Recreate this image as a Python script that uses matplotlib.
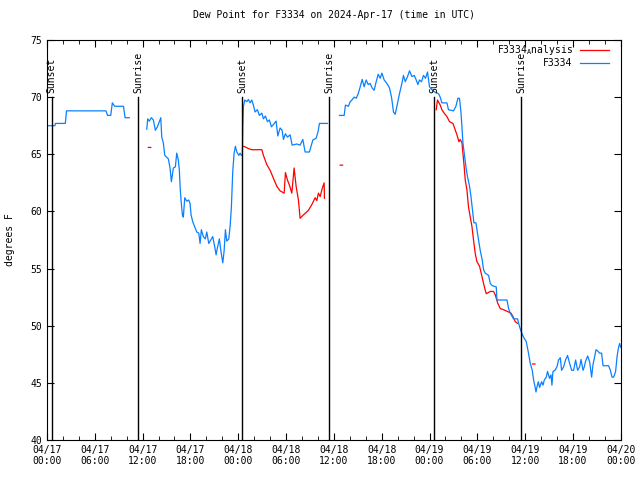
import matplotlib
matplotlib.use("Agg")
import matplotlib.pyplot as plt
import matplotlib.dates as mdates
import numpy as np
import pandas as pd

plt.rcParams['font.family'] = ['DejaVu Sans Mono']

start = pd.Timestamp("2024-04-17 00:00")

# observed dew point (hours since 04/17 00:00 UTC, degF); gaps split segments
obs_h1 = [0.0, 1.0, 1.05, 2.3, 2.45, 7.4, 7.6, 8.0, 8.2, 8.5, 9.6, 9.8, 10.33]
obs_v1 = [67.5, 67.5, 67.7, 67.7, 68.8, 68.8, 68.4, 68.4, 69.5, 69.2, 69.2, 68.2, 68.2]

obs_h2 = [12.52, 12.64, 12.84, 13.09, 13.35, 13.60, 13.85, 14.28, 14.40, 14.60, 14.78, 14.94,
          15.23, 15.44, 15.61, 15.86, 16.11, 16.28, 16.48, 16.61, 16.70, 16.82, 16.99, 17.11,
          17.29, 17.54, 17.79, 17.95, 18.08, 18.29, 18.62, 18.79, 19.05, 19.21, 19.37, 19.62,
          19.87, 20.05, 20.30, 20.55, 20.80, 21.05, 21.22, 21.38, 21.63, 21.81, 22.06, 22.22,
          22.39, 22.56, 22.81, 22.98, 23.14, 23.31, 23.48, 23.64, 23.82, 24.07, 24.23, 24.39,
          24.52, 24.57, 24.65, 24.82, 25.07, 25.27, 25.49, 25.70, 25.90, 26.11, 26.40, 26.65,
          26.96, 27.16, 27.41, 27.66, 27.91, 28.16, 28.41, 28.75, 28.96, 29.25, 29.50, 29.67,
          29.92, 30.17, 30.51, 30.76, 31.35, 31.76, 32.10, 32.39, 32.93, 33.36, 33.77, 34.02,
          34.19, 35.19]
obs_v2 = [67.2, 68.1, 67.9, 68.2, 68.0, 67.1, 67.4, 68.2, 66.5, 66.0, 64.9, 64.8,
          64.6, 63.8, 62.6, 63.8, 63.9, 65.1, 64.5, 63.6, 62.2, 61.0, 59.7, 59.5,
          61.2, 60.9, 61.0, 60.7, 59.7, 59.1, 58.5, 58.2, 58.1, 57.2, 58.4, 57.8,
          57.6, 58.2, 57.2, 57.5, 57.8, 56.9, 56.2, 56.8, 57.6, 56.6, 55.5, 56.5,
          58.4, 57.4, 57.6, 58.7, 60.4, 63.5, 65.1, 65.7, 65.2, 64.9, 65.1, 64.9,
          64.9, 67.4, 69.2, 69.75, 69.6, 69.8, 69.5, 69.75, 69.3, 68.7, 68.9, 68.4,
          68.6, 68.1, 68.35, 67.85, 68.0, 67.4, 67.6, 67.9, 66.6, 67.3, 67.1, 66.3,
          66.8, 66.5, 66.7, 65.8, 65.9, 65.8, 66.3, 65.2, 65.2, 66.25, 66.4, 67.0,
          67.7, 67.7]

obs_h3 = [36.70, 37.29, 37.45, 37.83, 38.04, 38.26, 38.54, 38.80, 39.05, 39.30, 39.55, 39.80,
          40.05, 40.30, 40.55, 40.80, 41.05, 41.31, 41.56, 41.81, 42.02, 42.31, 42.65, 42.98,
          43.23, 43.48, 43.69, 43.91, 44.23, 44.53, 44.73, 44.95, 45.24, 45.49, 45.79, 46.08,
          46.33, 46.54, 46.74, 46.99, 47.24, 47.50, 47.75, 48.00, 48.25, 48.50, 49.13, 49.34,
          49.55, 50.18, 50.38, 51.01, 51.31, 51.56, 51.76, 51.94, 52.07, 52.19, 52.35, 52.57,
          52.77, 53.02, 53.20, 53.40, 53.57, 53.82, 53.95, 54.15, 54.36, 54.61, 54.78, 54.99,
          55.41, 55.62, 55.87, 56.37, 56.46, 57.72, 57.92, 58.13, 58.54, 59.05, 59.30, 59.60,
          59.80, 60.14, 60.39, 60.64, 60.89, 61.06, 61.23, 61.36, 61.48, 61.65, 61.81, 62.06,
          62.24, 62.40, 62.65, 62.81, 63.06, 63.24, 63.36, 63.49, 63.74, 63.99, 64.19, 64.41,
          64.57, 64.82, 65.07, 65.32, 65.58, 65.83, 66.08, 66.33, 66.58, 66.83, 67.01, 67.26,
          67.42, 67.58, 67.84, 68.09, 68.34, 68.51, 68.68, 68.89, 69.09, 69.34, 69.59, 69.77,
          70.47, 70.69, 70.90, 71.10, 71.35, 71.53, 71.69, 71.85, 72.0]
obs_v3 = [68.4, 68.4, 69.3, 69.2, 69.6, 69.75, 70.0, 69.9, 70.3, 70.9, 71.55, 70.9,
          71.5, 71.1, 71.2, 70.8, 70.6, 71.35, 72.0, 71.65, 72.1, 71.5, 71.2, 70.8,
          70.0, 68.7, 68.5, 69.2, 70.3, 71.2, 71.9, 71.35, 71.8, 72.3, 71.8, 71.9,
          71.5, 71.1, 71.5, 71.35, 71.9, 71.65, 72.2, 70.9, 70.7, 70.5, 70.3, 70.0,
          69.5, 69.5, 68.9, 68.8, 69.2, 69.9, 69.9, 68.7, 67.4, 66.0, 65.1, 63.9,
          63.0, 62.2, 61.3, 60.1, 59.0, 59.0, 58.4, 57.5, 56.6, 55.75, 54.9, 54.6,
          54.4, 53.7, 53.5, 53.4, 52.25, 52.25, 51.5, 51.1, 50.6, 50.6, 49.9, 49.3,
          49.0, 48.6, 47.7, 46.7, 46.1, 45.25, 44.7, 44.2, 44.65, 45.1, 44.6, 45.1,
          44.8, 45.25, 45.5, 46.0, 45.4, 45.7, 44.8, 46.0, 46.1, 46.4, 47.0, 47.2,
          46.1, 46.4, 47.0, 47.4, 46.7, 46.1, 46.1, 47.0, 46.1, 46.4, 47.05, 46.1,
          46.4, 46.9, 47.35, 46.85, 45.5, 46.6, 47.15, 47.9, 47.8, 47.6, 47.6, 46.5,
          46.5, 46.1, 45.5, 45.5, 46.0, 47.3, 48.0, 48.45, 48.1]

# analysis dew point
ana_h1 = [24.57, 24.86, 25.27, 25.70, 26.96, 27.16, 27.58, 28.00, 28.41, 28.84, 29.25, 29.76,
          29.92, 30.17, 30.42, 30.72, 31.01, 31.26, 31.55, 31.76, 32.18, 32.81, 33.23, 33.65,
          33.86, 34.06, 34.28, 34.53, 34.78, 34.81]
ana_v1 = [65.7, 65.65, 65.5, 65.4, 65.4, 64.9, 64.1, 63.6, 62.9, 62.2, 61.8, 61.6,
          63.4, 62.75, 62.3, 61.6, 63.8, 62.2, 61.0, 59.4, 59.7, 60.1, 60.6, 61.2,
          60.95, 61.6, 61.3, 62.0, 62.5, 61.15]

ana_h2 = [48.84, 49.00, 49.34, 49.55, 49.84, 50.18, 50.51, 50.94, 51.14, 51.44, 51.69, 51.85,
          52.07, 52.19, 52.35, 52.48, 52.69, 52.89, 53.11, 53.32, 53.52, 53.74, 53.95, 54.28,
          54.58, 54.78, 54.99, 55.12, 55.62, 56.03, 56.25, 56.54, 56.88, 57.29, 57.92, 58.22,
          58.47, 58.76, 59.05]
ana_v2 = [68.9, 69.75, 69.3, 68.9, 68.6, 68.3, 67.85, 67.7, 67.3, 66.7, 66.1, 66.3,
          66.0, 65.1, 63.9, 62.75, 61.9, 60.4, 59.5, 58.7, 57.5, 56.3, 55.6, 55.2,
          54.3, 53.7, 53.1, 52.8, 53.0, 53.0, 52.7, 52.0, 51.5, 51.4, 51.2, 51.1,
          50.8, 50.35, 50.2]

# single analysis values drawn as short dashes
ana_single_h = [12.72, 36.79, 60.93]
ana_single_v = [65.6, 64.05, 46.65]

sunset_h = [0.59, 24.5, 48.6]
sunrise_h = [11.46, 35.4, 59.5]


def to_time(hours):
    return start + pd.to_timedelta(np.asarray(hours), unit="h")


def joined(hs, vs):
    th, tv = [], []
    for h, v in zip(hs, vs):
        th += list(h) + [h[-1] + 0.01]
        tv += list(v) + [np.nan]
    return to_time(th), np.array(tv)


blue = "#0a80ff"
red = "#ff0000"

fig = plt.figure(figsize=(6.4, 4.8), dpi=100)
ax = fig.add_axes([0.0734, 0.0833, 0.8966, 0.8334])

t_obs, v_obs = joined([obs_h1, obs_h2, obs_h3], [obs_v1, obs_v2, obs_v3])
t_ana, v_ana = joined([ana_h1, ana_h2] + [[h, h + 0.3] for h in ana_single_h],
                      [ana_v1, ana_v2] + [[v, v] for v in ana_single_v])

ax.plot(t_ana, v_ana, color=red, lw=0.9, label="F3334$_\\mathregular{A}$nalysis")
ax.plot(t_obs, v_obs, color=blue, lw=0.9, label="F3334")

for hs, name in [(sunset_h, "Sunset"), (sunrise_h, "Sunrise")]:
    for t in to_time(hs):
        ax.plot([t, t], [40, 70], color="black", lw=1.0)
        ax.text(t, 70.4, name, rotation=90, ha="center", va="bottom", fontsize=7)

ax.set_xlim(start, start + pd.Timedelta(hours=72))
ax.set_ylim(40, 75)
ax.set_yticks(np.arange(40, 76, 5))
ax.xaxis.set_major_locator(mdates.HourLocator(byhour=[0, 6, 12, 18]))
ax.xaxis.set_minor_locator(mdates.HourLocator(byhour=range(0, 24, 2)))
ax.xaxis.set_major_formatter(mdates.DateFormatter("%m/%d\n%H:%M"))
ax.tick_params(which="both", direction="in", top=True, right=True, labelsize=7)
ax.tick_params(which="major", length=5)
ax.tick_params(which="minor", length=3)

ax.set_ylabel("degrees F", fontsize=7)
ax.yaxis.set_label_coords(-0.056, 0.5)
ax.set_title("Dew Point for F3334 on 2024-Apr-17 (time in UTC)", fontsize=7, pad=16)

ax.legend(loc="upper right", bbox_to_anchor=(0.9895, 1.005), frameon=False,
          markerfirst=False, fontsize=7, handlelength=3.0, borderaxespad=0.15,
          labelspacing=0.1)

fig.savefig("out.png", dpi=100)
